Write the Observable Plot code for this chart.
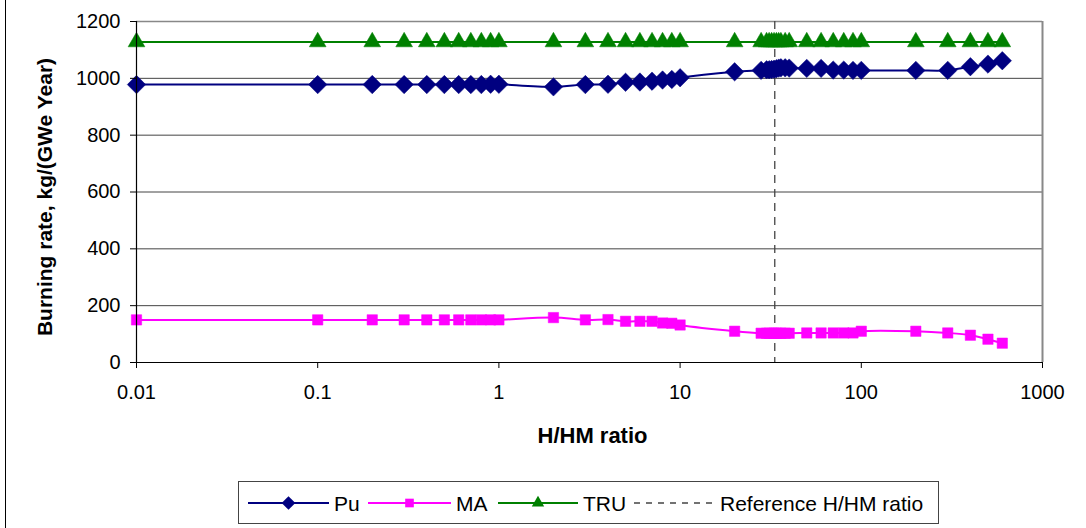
<!DOCTYPE html>
<html>
<head>
<meta charset="utf-8">
<script src="https://cdn.jsdelivr.net/npm/d3@7"></script>
<script src="https://cdn.jsdelivr.net/npm/@observablehq/plot@0.6"></script>
<style>
  html, body { margin: 0; padding: 0; background: #fff; }
  #wrap { position: relative; width: 1086px; height: 528px; overflow: hidden; font-family: "Liberation Sans", Arial, sans-serif; }
  #frame { position: absolute; left: 5px; top: 0; width: 1px; height: 528px; background: #000; pointer-events: none; }
  #chart { position: absolute; left: 0; top: 0; }
  #legend { position: absolute; left: 238px; top: 481px; }
</style>
</head>
<body>
<div id="wrap">
  <div id="chart"></div>
  <div id="legend"></div>
  <div id="frame"></div>
</div>
<script>
// ---- data ----
const hhm = [0.01,0.1,0.2,0.3,0.4,0.5,0.6,0.7,0.8,0.9,1,
             2,3,4,5,6,7,8,9,10,
             20,
             28,30,31,32,33,34,35,36,38,40,
             50,60,70,80,90,100,
             200,300,400,500,600];
const pu  = [978,978,978,978,978,978,978,978,978,979,979,
             970,978,979,986,987,990,994,996,1002,
             1023,
             1028,1030,1030,1031,1032,1034,1036,1037,1037,1036,
             1035,1035,1029,1029,1028,1028,
             1028,1028,1041,1050,1062];
const ma  = [150,150,150,150,150,150,150,150,150,150,150,
             158,150,151,145,145,145,139,138,132,
             110,
             103,103,103,103,103,103,103,103,103,103,
             104,104,104,104,104,110,
             110,104,96,82,68];
const tru = [1128,1128,1128,1128,1128,1128,1128,1128,1128,1128,1128,
             1128,1128,1128,1128,1128,1128,1128,1128,1128,
             1128,
             1128,1128,1128,1128,1128,1128,1128,1128,1128,1128,
             1128,1128,1128,1128,1128,1128,
             1128,1128,1128,1128,1128];
const referenceHHM = 33.3;
const xTicks = [0.01, 0.1, 1, 10, 100, 1000];
const yTicks = [0, 200, 400, 600, 800, 1000, 1200];
const legendNames = ["Pu", "MA", "TRU", "Reference H/HM ratio"];
const colors = {Pu: "#000080", MA: "#FF00FF", TRU: "#008000"};

const rows = [];
hhm.forEach((x, i) => {
  rows.push({x, y: pu[i], s: "Pu"});
  rows.push({x, y: ma[i], s: "MA"});
  rows.push({x, y: tru[i], s: "TRU"});
});
const bySeries = s => rows.filter(d => d.s === s);

const font = "Liberation Sans, Arial, sans-serif";

const chart = Plot.plot({
  width: 1086,
  height: 470,
  marginLeft: 136,
  marginRight: 44,
  marginTop: 21,
  marginBottom: 108,
  style: {fontFamily: font, fontSize: "20px", color: "#000", background: "#fff", overflow: "visible"},
  x: {type: "log", domain: [0.01, 1000], range: [136, 1042]},
  y: {domain: [0, 1200]},
  marks: [
    Plot.gridY(yTicks.filter(d => d > 0), {stroke: "#444", strokeOpacity: 1, strokeWidth: 1}),
    Plot.ruleX([1000], {stroke: "#888", strokeWidth: 2}),
    Plot.ruleY([1200], {stroke: "#888", strokeWidth: 1.5}),
    Plot.ruleX([referenceHHM], {stroke: "#444", strokeDasharray: "8,6", strokeWidth: 1.3}),
    Plot.line(bySeries("Pu"), {x: "x", y: "y", stroke: colors.Pu, strokeWidth: 2, curve: "catmull-rom"}),
    Plot.line(bySeries("MA"), {x: "x", y: "y", stroke: colors.MA, strokeWidth: 2, curve: "catmull-rom"}),
    Plot.line(bySeries("TRU"), {x: "x", y: "y", stroke: colors.TRU, strokeWidth: 2, curve: "catmull-rom"}),
    Plot.dot(bySeries("Pu"), {x: "x", y: "y", symbol: "diamond2", r: 8.3, fill: colors.Pu, stroke: colors.Pu, strokeWidth: 0.5}),
    Plot.dot(bySeries("MA"), {x: "x", y: "y", symbol: "square2", r: 6.6, fill: colors.MA, stroke: colors.MA, strokeWidth: 0.5}),
    Plot.dot(bySeries("TRU"), {x: "x", y: "y", symbol: "triangle2", r: 8, fill: colors.TRU, stroke: colors.TRU, strokeWidth: 0.5}),
    Plot.ruleY([0], {stroke: "#000", strokeWidth: 1.2}),
    Plot.ruleX([0.01], {stroke: "#000", strokeWidth: 1.2}),
    Plot.axisY({ticks: yTicks, tickFormat: d => String(d), tickSize: 6, tickPadding: 10, label: null, fontSize: 20, stroke: "#000"}),
    Plot.axisX({ticks: xTicks, tickFormat: d => String(d), tickSize: 6, tickPadding: 16, label: null, fontSize: 20, stroke: "#000"}),
    Plot.text(["H/HM ratio"], {frameAnchor: "bottom", dy: 80, dx: 3, text: d => d, fontWeight: "bold", fontSize: 22, fill: "#000"}),
    Plot.text(["Burning rate, kg/(GWe Year)"], {frameAnchor: "left", dx: -91, dy: 5, rotate: -90, textAnchor: "middle", text: d => d, fontWeight: "bold", fontSize: 21, fill: "#000"})
  ]
});
document.getElementById("chart").appendChild(chart);

// ---- legend ----
const lg = d3.select("#legend").append("svg")
  .attr("width", 702).attr("height", 44)
  .style("font-family", font);
lg.append("rect").attr("x", 0.5).attr("y", 0.5).attr("width", 700).attr("height", 42)
  .attr("fill", "#fff").attr("stroke", "#444").attr("stroke-width", 1);
const items = [
  {name: legendNames[0], color: colors.Pu, sym: d3.symbolDiamond2, size: 120, x: 10, w: 81},
  {name: legendNames[1], color: colors.MA, sym: d3.symbolSquare2, size: 95, x: 130, w: 83},
  {name: legendNames[2], color: colors.TRU, sym: d3.symbolTriangle2, size: 110, x: 260, w: 80},
  {name: legendNames[3], color: "#444", sym: null, x: 396, w: 81}
];
items.forEach(it => {
  const g = lg.append("g").attr("transform", `translate(${it.x},22)`);
  if (it.sym) {
    g.append("line").attr("x1", 0).attr("x2", it.w).attr("y1", 0).attr("y2", 0)
      .attr("stroke", it.color).attr("stroke-width", 2);
    g.append("path").attr("d", d3.symbol(it.sym, it.size)()).attr("transform", `translate(${it.w / 2},0)`)
      .attr("fill", it.color);
  } else {
    g.append("line").attr("x1", 0).attr("x2", it.w).attr("y1", 0).attr("y2", 0)
      .attr("stroke", it.color).attr("stroke-width", 1.3).attr("stroke-dasharray", "6,6");
  }
  g.append("text").attr("x", it.w + 5).attr("y", 7.5).attr("font-size", 21).attr("fill", "#000").text(it.name);
});
</script>
</body>
</html>
